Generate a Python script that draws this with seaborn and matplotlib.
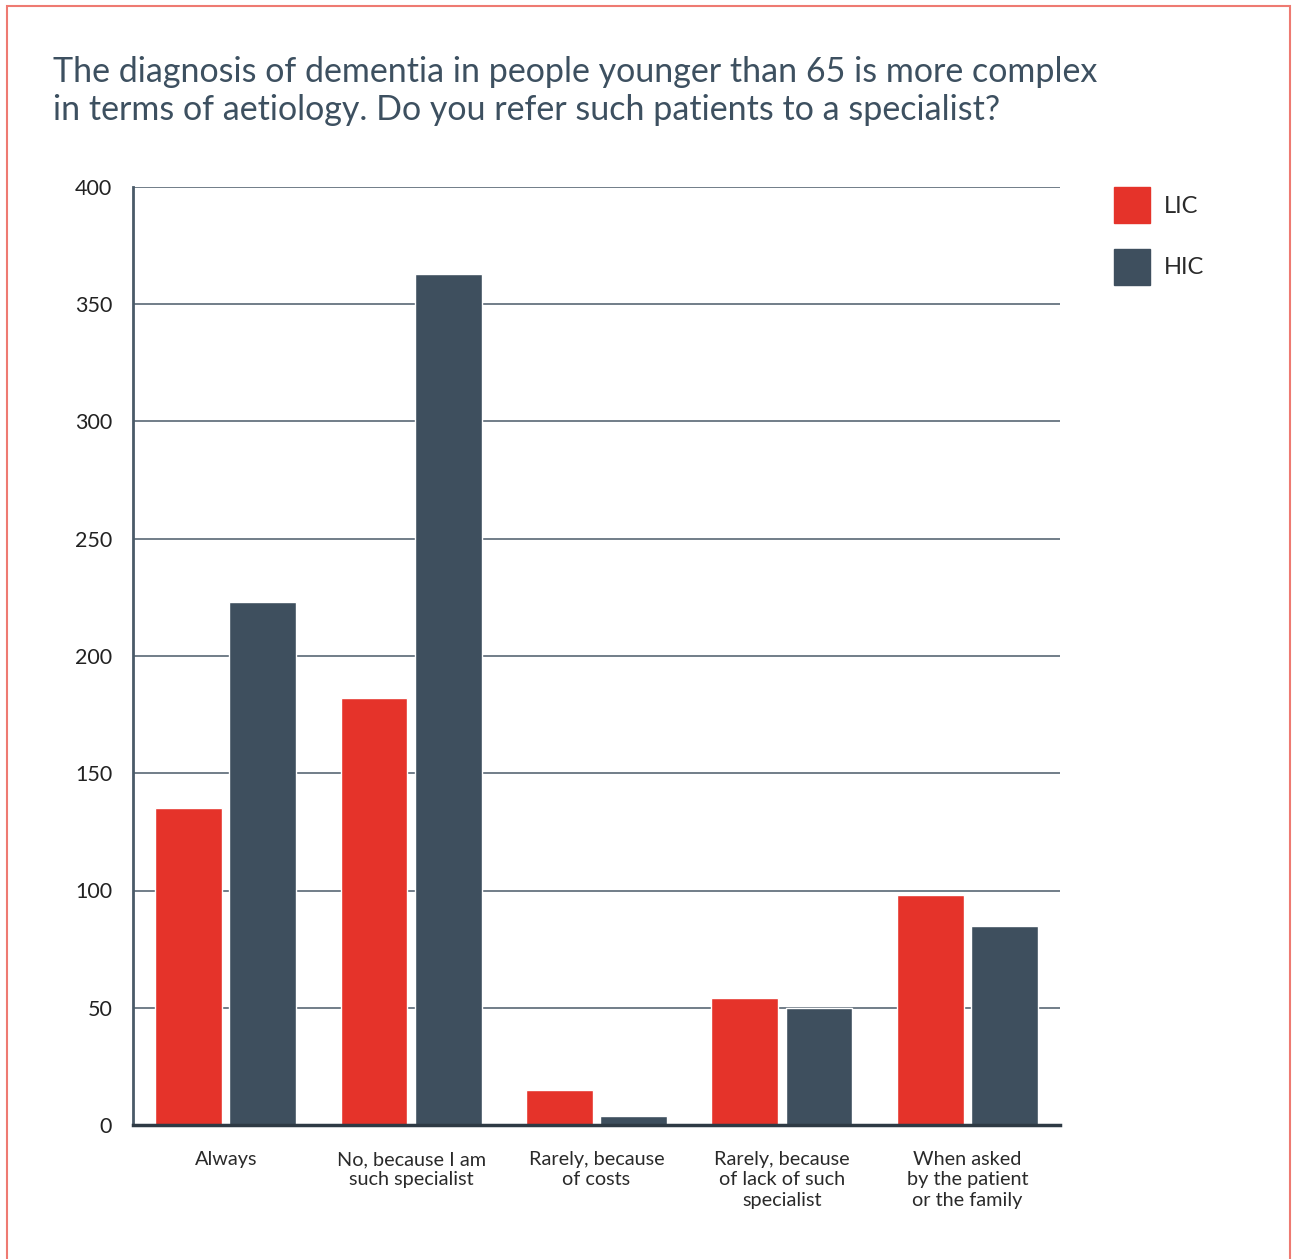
import matplotlib
matplotlib.use("Agg")
import matplotlib.pyplot as plt
import seaborn as sns
import pandas as pd
from matplotlib.patches import Rectangle

categories = ["Always", "No, because I am\nsuch specialist", "Rarely, because\nof costs",
              "Rarely, because\nof lack of such\nspecialist", "When asked\nby the patient\nor the family"]
lic_values = [135, 182, 15, 54, 98]
hic_values = [223, 363, 4, 50, 85]
series = ["LIC", "HIC"]
yticks = [0, 50, 100, 150, 200, 250, 300, 350, 400]
title = ("The diagnosis of dementia in people younger than 65 is more complex\n"
         "in terms of aetiology. Do you refer such patients to a specialist?")

df = pd.DataFrame({
    "category": categories * 2,
    "value": lic_values + hic_values,
    "series": [series[0]] * len(categories) + [series[1]] * len(categories),
})

sns.set_theme(style="white")
plt.rcParams["font.family"] = ["Lato", "DejaVu Sans"]

W, H = 1292, 1259
fig = plt.figure(figsize=(W / 100, H / 100), dpi=100)
ax = fig.add_axes([133 / W, 1 - 1125 / H, (1060 - 133) / W, (1125 - 187) / H])

palette = {"LIC": "#e5332a", "HIC": "#3e4f5e"}
sns.barplot(data=df, x="category", y="value", hue="series", order=categories,
            hue_order=series, palette=palette, width=0.8, gap=0.1,
            saturation=1, ax=ax, zorder=3, legend=False)

ax.set_xlim(-0.5, 4.5)
ax.set_ylim(0, 400)
ax.set_yticks(yticks)
ax.set_yticklabels([str(t) for t in yticks], fontsize=15.5, color="#222222")
ax.tick_params(axis="y", length=0, pad=15)
ax.tick_params(axis="x", length=0, pad=19, labelsize=14.3, labelcolor="#2a2a2a")
ax.set_xlabel("")
ax.set_ylabel("")
for t in yticks[1:]:
    ax.axhline(t, color="#4a5a68", lw=1.1, zorder=1)
for s in ["top", "right"]:
    ax.spines[s].set_visible(False)
ax.spines["left"].set_color("#4a5a68")
ax.spines["left"].set_linewidth(2)
ax.spines["bottom"].set_color("#2e3a44")
ax.spines["bottom"].set_linewidth(2.5)
ax.spines["left"].set_zorder(4)
ax.spines["bottom"].set_zorder(4)

for lbl in ax.get_xticklabels():
    lbl.set_linespacing(1.22)

fig.text(53 / W, 1 - 56 / H, title, fontsize=24.5, color="#3d5060", ha="left", va="top",
         linespacing=1.23)

handles = [Rectangle((0, 0), 1, 1, color=palette[s]) for s in series]
fig.legend(handles, series, loc="upper left", bbox_to_anchor=(1114 / W, 1 - 187 / H),
           frameon=False, fontsize=17, handlelength=1.52, handleheight=1.97,
           handletextpad=0.6, labelspacing=1.08, borderpad=0, borderaxespad=0,
           labelcolor="#2a2a2a")

fig.add_artist(Rectangle((7 / W, -0.05), (1290 - 7) / W, 1.05 - 6 / H,
                         transform=fig.transFigure, fill=False,
                         edgecolor="#ee7a72", lw=1.5))

fig.savefig("out.png", dpi=100, facecolor="white")
